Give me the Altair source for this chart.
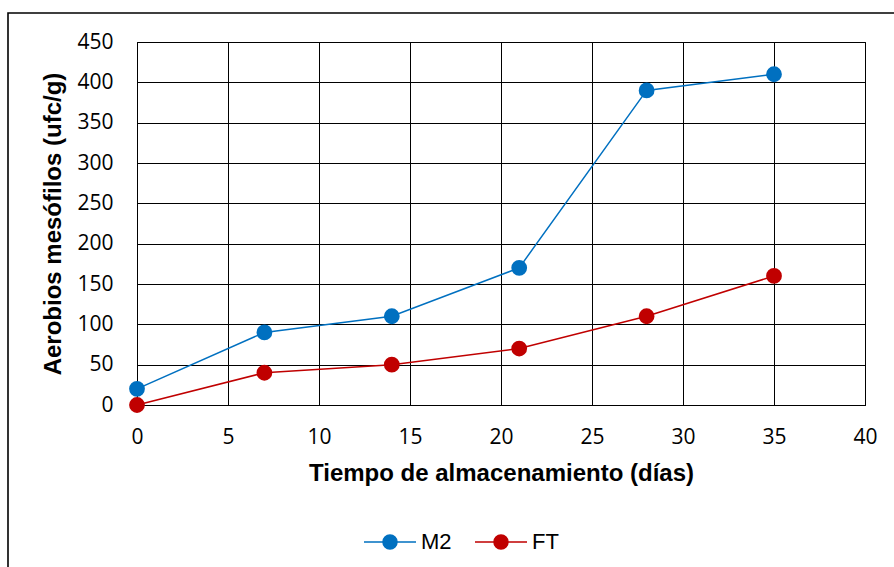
import altair as alt
import pandas as pd

# Storage time (days) and aerobic mesophile counts (ufc/g) per sample
days = [0, 7, 14, 21, 28, 35]
m2 = [20, 90, 110, 170, 390, 410]
ft = [0, 40, 50, 70, 110, 160]
series = ["M2", "FT"]
colors = ["#0070C0", "#C00000"]
x_ticks = [0, 5, 10, 15, 20, 25, 30, 35, 40]
y_ticks = [0, 50, 100, 150, 200, 250, 300, 350, 400, 450]

df = pd.DataFrame({
    "dia": days + days,
    "valor": m2 + ft,
    "serie": ["M2"] * len(days) + ["FT"] * len(days),
})

tick_font = "Open Sans"
title_font = "Liberation Sans"

x_enc = alt.X(
    "dia:Q",
    scale=alt.Scale(domain=[0, 40], nice=False, zero=False),
    axis=alt.Axis(
        values=x_ticks,
        title="Tiempo de almacenamiento (días)",
        labelFont=tick_font, labelFontSize=21, labelColor="#000000",
        labelPadding=21, labelFlush=False, ticks=False,
        titleFont=title_font, titleFontSize=24, titleFontWeight="bold",
        titleColor="#000000", titlePadding=14,
        grid=True, gridColor="#000000", gridWidth=1, gridOpacity=1,
        domainColor="#000000", domainWidth=1,
    ),
)
y_enc = alt.Y(
    "valor:Q",
    scale=alt.Scale(domain=[0, 450], nice=False),
    axis=alt.Axis(
        values=y_ticks,
        title="Aerobios mesófilos (ufc/g)",
        labelFont=tick_font, labelFontSize=21, labelColor="#000000",
        labelPadding=24, labelFlush=False, ticks=False,
        titleFont=title_font, titleFontSize=24, titleFontWeight="bold",
        titleColor="#000000", titlePadding=11,
        grid=True, gridColor="#000000", gridWidth=1, gridOpacity=1,
        domainColor="#000000", domainWidth=1,
    ),
)

legend = alt.Legend(
    title=None,
    orient="none",
    direction="horizontal",
    legendX=226,
    legendY=473,
    symbolType="M-1,0H1M-0.27,0A0.27,0.27 0 1,0 0.27,0A0.27,0.27 0 1,0 -0.27,0Z",
    symbolSize=2704,
    symbolStrokeWidth=1.5,
    labelFont=title_font,
    labelFontSize=22,
    labelColor="#000000",
    columnPadding=20,
    labelOffset=4,
)

col_scale = alt.Scale(domain=series, range=colors)

points = alt.Chart(df).mark_point(filled=True, size=190, opacity=1).encode(
    x=x_enc,
    y=y_enc,
    fill=alt.Fill("serie:N", scale=col_scale, legend=legend),
    stroke=alt.Stroke("serie:N", scale=col_scale, legend=legend),
)

lines = alt.Chart(df).mark_line(strokeWidth=1.5).encode(
    x=x_enc,
    y=y_enc,
    stroke=alt.Stroke("serie:N", scale=col_scale, legend=legend),
    detail="serie:N",
)

frame = alt.Chart(pd.DataFrame({"k": [0]})).mark_rect(
    fill="#ffffff", fillOpacity=0, stroke="#000000", strokeWidth=1.6
).encode(
    x=alt.value(-129), x2=alt.value(800),
    y=alt.value(-29), y2=alt.value(600),
)

chart = alt.layer(frame, lines, points).properties(
    width=728,
    height=363,
    autosize=alt.AutoSizeParams(type="none"),
    padding={"left": 137, "top": 42, "right": 29, "bottom": 162},
    background="#ffffff",
).configure_view(stroke="#000000", strokeWidth=1)

chart.save("out.html", embed_options={"renderer": "svg", "actions": False})
